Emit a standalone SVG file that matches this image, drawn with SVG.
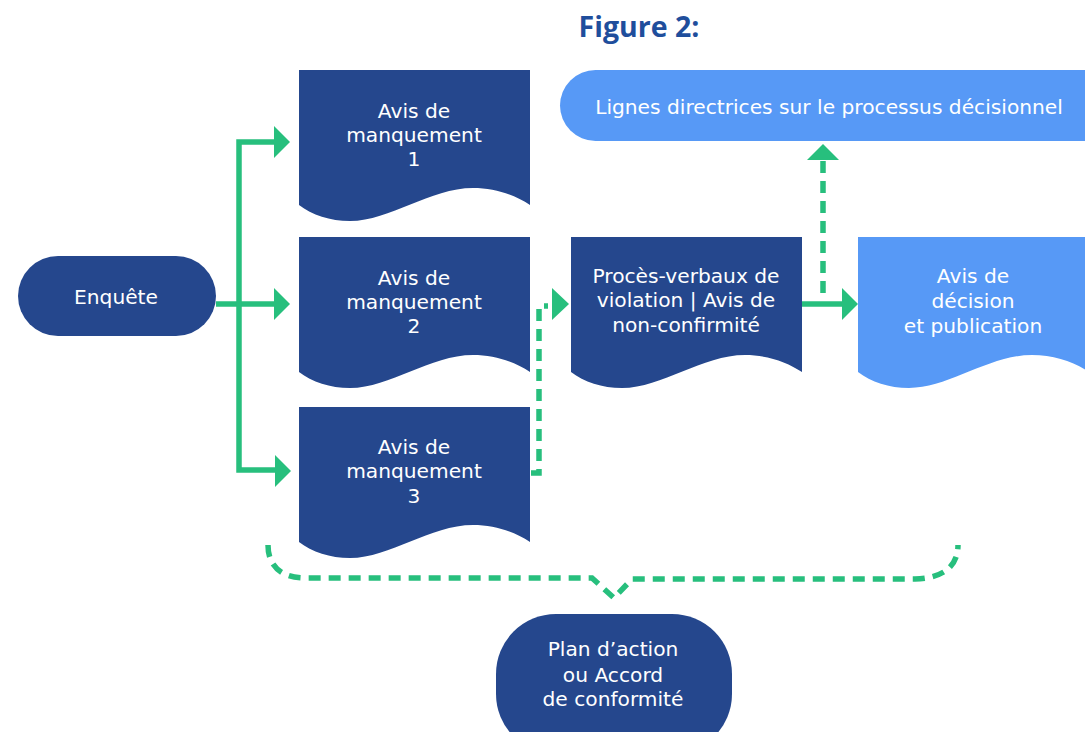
<svg xmlns="http://www.w3.org/2000/svg" width="1085" height="732" viewBox="0 0 1085 732">
<style>
.dark{fill:#25478D}
.light{fill:#5799F6}
.t{font-family:"DejaVu Sans",sans-serif;font-size:20.2px;fill:#ffffff;text-anchor:middle}
.title{font-family:"Open Sans",sans-serif;font-weight:bold;font-size:28.5px;fill:#1F4E9C;text-anchor:middle}
.solid{fill:none;stroke:#27BF7D;stroke-width:5.5}
.dash{fill:none;stroke:#27BF7D;stroke-width:5.5;stroke-dasharray:12 8}
.head{fill:#27BF7D}
</style>
<defs>
<path id="doc" d="M0,0 H231 V135 C216,125 196,118 174,118 C131,118 91,151 51,151 C31,151 13,145 0,135 Z"/>
</defs>
<rect width="1085" height="732" fill="#ffffff"/>
<text class="title" x="639" y="37">Figure 2:</text>

<g id="connectors">
  <path class="solid" d="M216,304 H276"/>
  <path class="solid" d="M276,142 H239 V470 H277"/>
  <polygon class="head" points="274,126 290,142 274,158"/>
  <polygon class="head" points="274,288 290,304 274,320"/>
  <polygon class="head" points="275,455 291,471 275,487"/>
  <path class="dash" d="M531,473 H539 V306 H548"/>
  <polygon class="head" points="552,288 569,304 552,320"/>
  <path class="solid" d="M802,304 H845"/>
  <polygon class="head" points="842,288 858,304 842,320"/>
  <path class="dash" d="M823,293 V160"/>
  <polygon class="head" points="807,160 823,144 839,160"/>
  <path class="dash" d="M268,545 C268,565 280,578 305,578 H592 L614,598 L632,579 H915 C945,578 958,565 958,545"/>
</g>

<g id="enquete">
  <rect class="dark" x="18" y="256" width="198" height="80" rx="40"/>
  <text class="t" x="116" y="304">Enquête</text>
</g>

<g id="avis1">
  <use href="#doc" class="dark" x="299" y="70"/>
  <text class="t" x="414" y="118">Avis de</text>
  <text class="t" x="414" y="142">manquement</text>
  <text class="t" x="414" y="166">1</text>
</g>

<g id="avis2">
  <use href="#doc" class="dark" x="299" y="237"/>
  <text class="t" x="414" y="285">Avis de</text>
  <text class="t" x="414" y="309">manquement</text>
  <text class="t" x="414" y="333">2</text>
</g>

<g id="avis3">
  <use href="#doc" class="dark" x="299" y="407"/>
  <text class="t" x="414" y="454">Avis de</text>
  <text class="t" x="414" y="478">manquement</text>
  <text class="t" x="414" y="503">3</text>
</g>

<g id="proces">
  <use href="#doc" class="dark" x="571" y="237"/>
  <text class="t" x="686" y="283">Procès-verbaux de</text>
  <text class="t" x="686" y="307">violation | Avis de</text>
  <text class="t" x="686" y="332">non-confirmité</text>
</g>

<g id="decision">
  <use href="#doc" class="light" x="858" y="237"/>
  <text class="t" x="973" y="283">Avis de</text>
  <text class="t" x="973" y="308">décision</text>
  <text class="t" x="973" y="333">et publication</text>
</g>

<g id="lignes">
  <rect class="light" x="560" y="70" width="560" height="71" rx="35.5"/>
  <text class="t" x="829" y="114">Lignes directrices sur le processus décisionnel</text>
</g>

<g id="plan">
  <rect class="dark" x="496" y="614" width="236" height="140" rx="60"/>
  <text class="t" x="613" y="656">Plan d’action</text>
  <text class="t" x="613" y="682">ou Accord</text>
  <text class="t" x="613" y="706">de conformité</text>
</g>
</svg>
